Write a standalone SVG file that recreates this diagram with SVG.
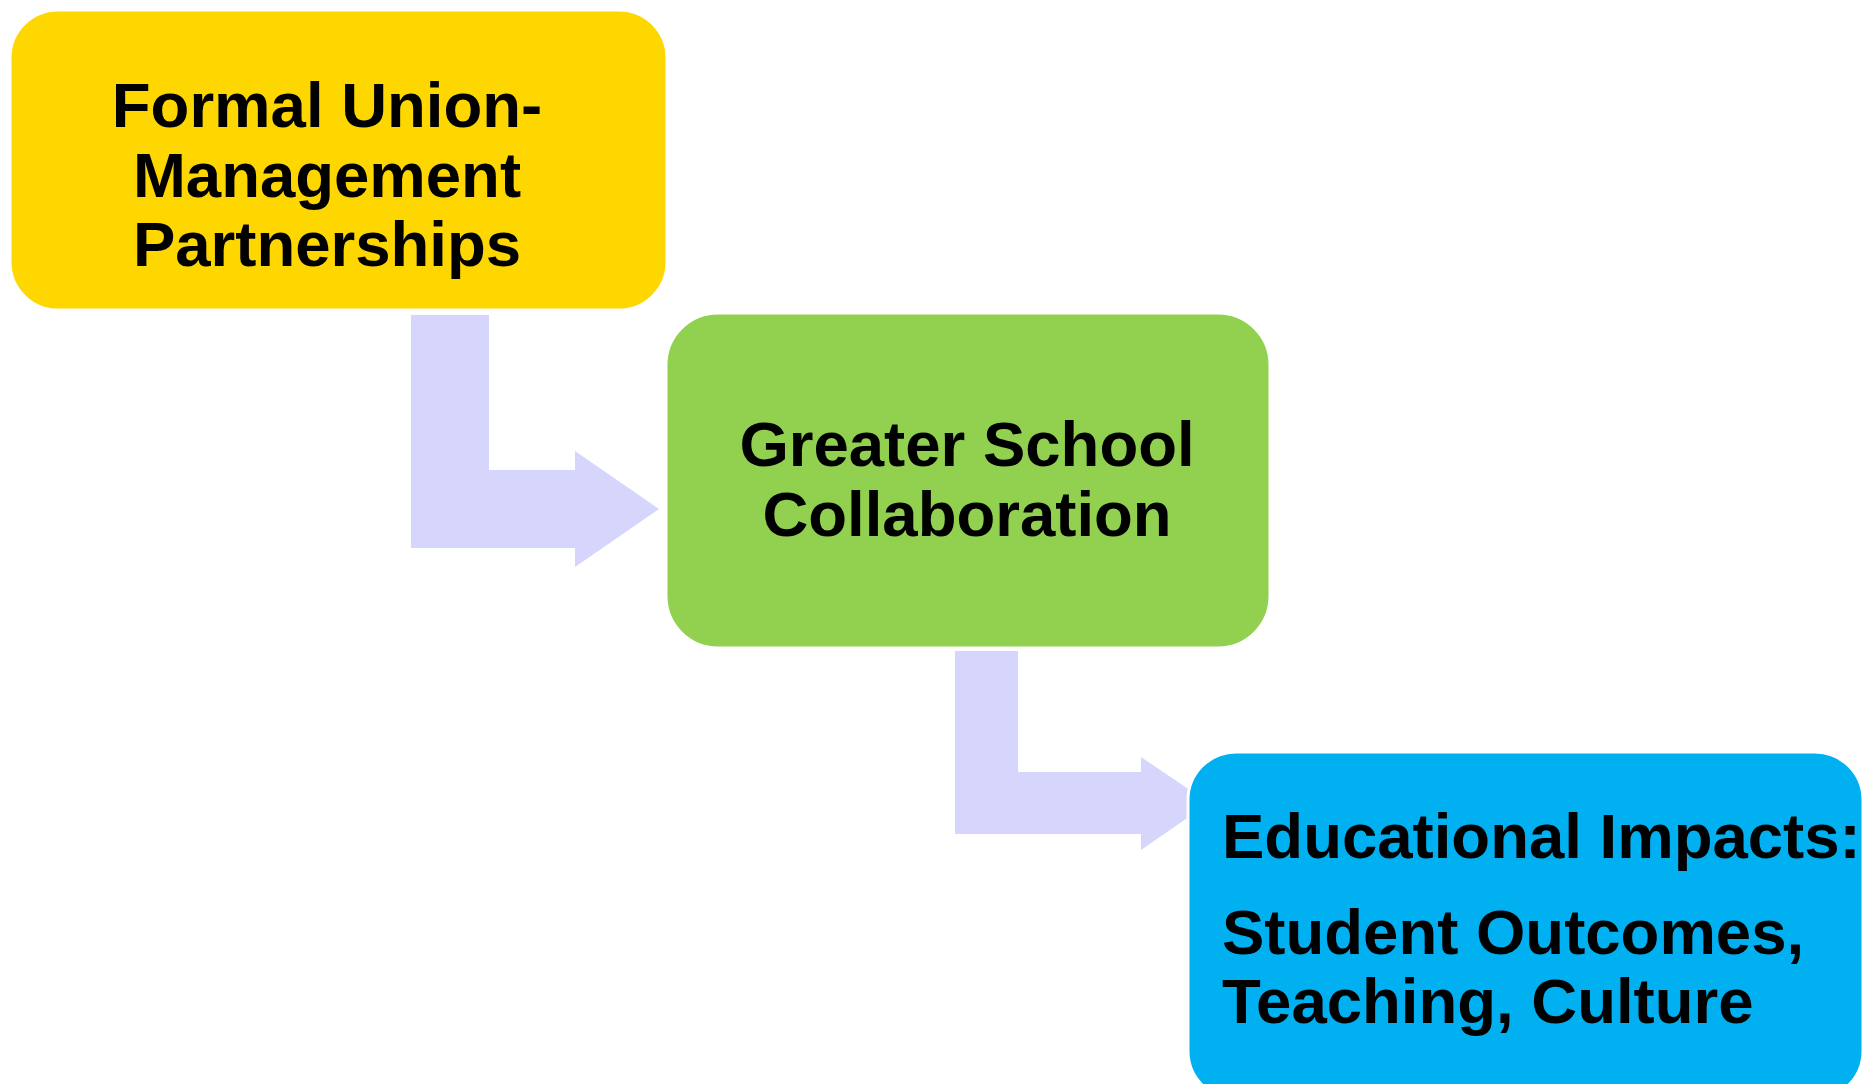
<svg xmlns="http://www.w3.org/2000/svg" width="1865" height="1084" viewBox="0 0 1865 1084">
<style>
.t{font-family:"Liberation Sans",Arial,sans-serif;font-weight:bold;font-size:63.5px;fill:#000}
.c{text-anchor:middle}
.box{stroke:#fff;stroke-width:3}
.arr{fill:#D6D6FC}
</style>
<rect width="1865" height="1084" fill="#fff"/>
<g id="connectors">
<path class="arr" d="M411,315 H489 V470 H575 V451 L659,509 L575,567 V548 H411 Z"/>
<path class="arr" d="M955,651 H1018 V772 H1141 V757 L1209,803 L1141,850 V834 H955 Z"/>
</g>
<g id="node-partnerships">
<rect class="box" x="10" y="10" width="657" height="300" rx="48" fill="#FFD700"/>
<text class="t c" x="327" y="127">Formal Union-</text>
<text class="t c" x="327" y="197">Management</text>
<text class="t c" x="327" y="266">Partnerships</text>
</g>
<g id="node-collaboration">
<rect class="box" x="666" y="313" width="604" height="335" rx="52" fill="#92D050"/>
<text class="t c" x="967" y="466">Greater School</text>
<text class="t c" x="967" y="536">Collaboration</text>
</g>
<g id="node-impacts">
<rect class="box" x="1188" y="752" width="675" height="347" rx="48" fill="#00B0F0"/>
<text class="t" x="1222" y="858">Educational Impacts:</text>
<text class="t" x="1222" y="954">Student Outcomes,</text>
<text class="t" x="1222" y="1023">Teaching, Culture</text>
</g>
</svg>
